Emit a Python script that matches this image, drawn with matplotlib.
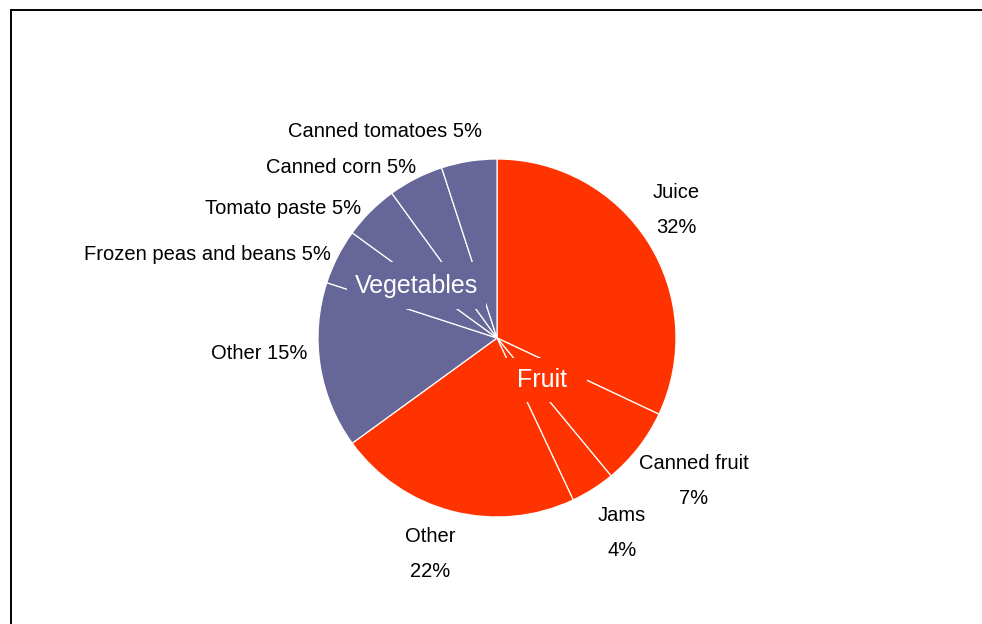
import matplotlib
matplotlib.use("Agg")
import matplotlib.pyplot as plt
from matplotlib import font_manager
from matplotlib.lines import Line2D

# slices go clockwise from 12 o'clock: fruit first, then vegetables
items = ["Juice", "Canned fruit", "Jams", "Other",
         "Other", "Frozen peas and beans", "Tomato paste", "Canned corn", "Canned tomatoes"]
shares = [32, 7, 4, 22, 15, 5, 5, 5, 5]
groups = ["Fruit", "Fruit", "Fruit", "Fruit",
          "Vegetables", "Vegetables", "Vegetables", "Vegetables", "Vegetables"]

group_colors = {"Fruit": "#FF3300", "Vegetables": "#666699"}

# label anchors in pie-radius units, (x, y, ha, two-line?)
label_pos = [(1.00, 0.715, "center", True),
             (1.10, -0.80, "center", True),
             (0.698, -1.089, "center", True),
             (-0.374, -1.207, "center", True),
             (-1.061, -0.089, "right", False),
             (-0.927, 0.464, "right", False),
             (-0.760, 0.721, "right", False),
             (-0.453, 0.950, "right", False),
             (-0.084, 1.151, "right", False)]
group_pos = {"Fruit": (0.251, -0.235), "Vegetables": (-0.450, 0.291)}

names = {f.name for f in font_manager.fontManager.ttflist}
base = "Liberation Sans Narrow" if "Liberation Sans Narrow" in names else "Liberation Sans"
plt.rcParams["font.family"] = [base, "DejaVu Sans"]

W, H, R = 982, 624, 179
cx, cy = 497, 338

fig = plt.figure(figsize=(W / 100, H / 100), dpi=100)
ax = fig.add_axes([0, 0, 1, 1])
ax.pie(shares, colors=[group_colors[g] for g in groups], startangle=90, counterclock=False,
       radius=1, wedgeprops=dict(edgecolor="white", linewidth=0.9), frame=False)
ax.set_xlim(-cx / R, (W - cx) / R)
ax.set_ylim(-(H - cy) / R, cy / R)
ax.set_aspect("equal")
ax.axis("off")

for name, v, (x, y, ha, two) in zip(items, shares, label_pos):
    txt = f"{name}\n{v}%" if two else f"{name} {v}%"
    ax.text(x, y, txt, ha=ha, va="center", multialignment="center",
            fontsize=14.5, linespacing=2.05, color="black")

# group titles sit on boxes in the slice colour, hiding the inner edges
ax.text(*group_pos["Fruit"], "Fruit", ha="center", va="center", fontsize=18, color="white",
        bbox=dict(boxstyle="square,pad=0.8", mutation_aspect=0.52,
                  facecolor=group_colors["Fruit"], edgecolor="none"))
ax.text(*group_pos["Vegetables"], "Vegetables", ha="center", va="center", fontsize=18,
        color="white",
        bbox=dict(boxstyle="square,pad=0.32", mutation_aspect=1.44,
                  facecolor=group_colors["Vegetables"], edgecolor="none"))

# outer frame, only its top and left sides fall inside the image
top = 1 - 9.5 / H
fig.add_artist(Line2D([10.5 / W, 1], [top, top], transform=fig.transFigure,
                      color="black", linewidth=1.4, solid_capstyle="projecting"))
fig.add_artist(Line2D([10.5 / W] * 2, [0, top], transform=fig.transFigure,
                      color="black", linewidth=1.4, solid_capstyle="projecting"))

fig.savefig("out.png", dpi=100)
